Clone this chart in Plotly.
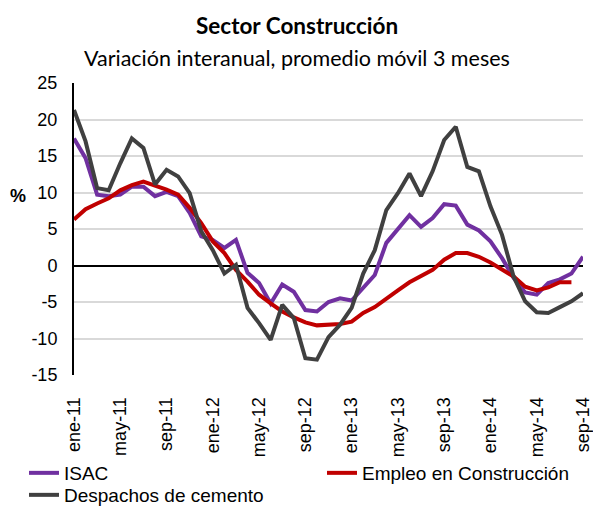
import plotly.graph_objects as go

meses = [
    "ene-11", "feb-11", "mar-11", "abr-11", "may-11", "jun-11", "jul-11", "ago-11", "sep-11", "oct-11", "nov-11", "dic-11",
    "ene-12", "feb-12", "mar-12", "abr-12", "may-12", "jun-12", "jul-12", "ago-12", "sep-12", "oct-12", "nov-12", "dic-12",
    "ene-13", "feb-13", "mar-13", "abr-13", "may-13", "jun-13", "jul-13", "ago-13", "sep-13", "oct-13", "nov-13", "dic-13",
    "ene-14", "feb-14", "mar-14", "abr-14", "may-14", "jun-14", "jul-14", "ago-14", "sep-14",
]

tick_labels = ["ene-11", "may-11", "sep-11", "ene-12", "may-12", "sep-12",
               "ene-13", "may-13", "sep-13", "ene-14", "may-14", "sep-14"]

y_ticks = [-15, -10, -5, 0, 5, 10, 15, 20, 25]
y_tick_text = ["-15", "-10", "-5", "0", "5", "10", "15", "20", "25"]

isac = [17.4, 14.7, 9.7, 9.5, 9.7, 10.8, 10.8, 9.5, 10.1, 9.5, 7.2, 4.0,
        3.5, 2.4, 3.5, -1.0, -2.4, -5.2, -2.6, -3.6, -6.1, -6.3, -5.0, -4.5,
        -4.8, -3.1, -1.3, 3.1, 5.0, 6.9, 5.3, 6.5, 8.4, 8.2, 5.6, 4.8,
        3.3, 1.0, -1.7, -3.7, -4.0, -2.4, -1.9, -1.1, 1.2]

empleo = [6.3, 7.7, 8.5, 9.2, 10.3, 11.0, 11.5, 11.0, 10.4, 9.7, 7.9, 5.8,
          3.3, 1.7, -0.6, -2.2, -4.0, -5.2, -6.3, -7.1, -7.8, -8.2, -8.1, -8.0,
          -7.7, -6.5, -5.7, -4.5, -3.4, -2.3, -1.4, -0.6, 0.8, 1.7, 1.7, 1.2,
          0.4, -0.5, -1.5, -2.9, -3.4, -3.0, -2.3, -2.3, None]

despachos = [21.3, 17.0, 10.6, 10.3, 14.0, 17.4, 16.1, 11.1, 13.1, 12.2, 9.9, 4.7,
             2.1, -1.1, 0.1, -5.8, -7.9, -10.2, -5.4, -7.2, -12.7, -12.9, -9.8, -8.1,
             -5.8, -1.1, 2.1, 7.6, 9.9, 12.6, 9.5, 12.9, 17.2, 19.0, 13.5, 12.9,
             8.1, 4.2, -1.5, -4.9, -6.4, -6.5, -5.7, -4.9, -3.8]

FONT = "Liberation Sans, Arial, sans-serif"
TFONT = "Lato, Calibri, sans-serif"

fig = go.Figure()
fig.add_trace(go.Scatter(x=meses, y=isac, mode="lines", name="ISAC",
                         line=dict(color="#7030A0", width=4), legend="legend"))
fig.add_trace(go.Scatter(x=meses, y=empleo, mode="lines", name="Empleo en Construcción",
                         line=dict(color="#C00000", width=4), legend="legend2"))
fig.add_trace(go.Scatter(x=meses, y=despachos, mode="lines", name="Despachos de cemento",
                         line=dict(color="#404040", width=4), legend="legend3"))

W, H = 593, 506
leg_common = dict(xref="container", yref="container", xanchor="left", yanchor="middle",
                  font=dict(family=FONT, size=19, color="#000000"),
                  bgcolor="rgba(0,0,0,0)", borderwidth=0, tracegroupgap=0)

fig.update_layout(
    width=W, height=H,
    margin=dict(l=74, r=10, t=83, b=131, autoexpand=False),
    paper_bgcolor="white", plot_bgcolor="white",
    showlegend=True,
    legend=dict(x=24 / W, y=1 - 473 / H, **leg_common),
    legend2=dict(x=322 / W, y=1 - 473 / H, **leg_common),
    legend3=dict(x=24 / W, y=1 - 495 / H, **leg_common),
    xaxis=dict(
        type="category", range=[0, 44], automargin=False,
        tickmode="array", tickvals=tick_labels, ticktext=tick_labels,
        tickangle=-90, ticks="outside", ticklen=14, tickcolor="rgba(0,0,0,0)",
        tickfont=dict(family=FONT, size=18, color="#000000"),
        showgrid=False, showline=False, zeroline=False,
    ),
    yaxis=dict(
        range=[-15, 25], automargin=False,
        tickmode="array", tickvals=y_ticks, ticktext=y_tick_text,
        ticks="outside", ticklen=11, tickcolor="rgba(0,0,0,0)",
        tickfont=dict(family=FONT, size=18, color="#000000"),
        showgrid=True, gridcolor="#D9D9D9", gridwidth=1.5,
        zeroline=True, zerolinecolor="#000000", zerolinewidth=2,
        showline=True, linecolor="#000000", linewidth=2,
    ),
    annotations=[
        dict(text="<b>Sector Construcción</b>", xref="paper", yref="paper",
             x=(297 - 74) / 509, y=(375 - 25.5) / 292, xanchor="center", yanchor="middle",
             showarrow=False, font=dict(family=TFONT, size=22.5, color="#000000")),
        dict(text="Variación interanual, promedio móvil 3 meses", xref="paper", yref="paper",
             x=(297 - 74) / 509, y=(375 - 58) / 292, xanchor="center", yanchor="middle",
             showarrow=False, font=dict(family=TFONT, size=21.5, color="#000000")),
        dict(text="<b>%</b>", xref="paper", yref="paper",
             x=(18 - 74) / 509, y=(375 - 196) / 292, xanchor="center", yanchor="middle",
             showarrow=False, font=dict(family=FONT, size=18, color="#000000")),
    ],
)

fig.write_html("out.html", config={"displayModeBar": False},
               post_script="document.body.style.margin='0';")
